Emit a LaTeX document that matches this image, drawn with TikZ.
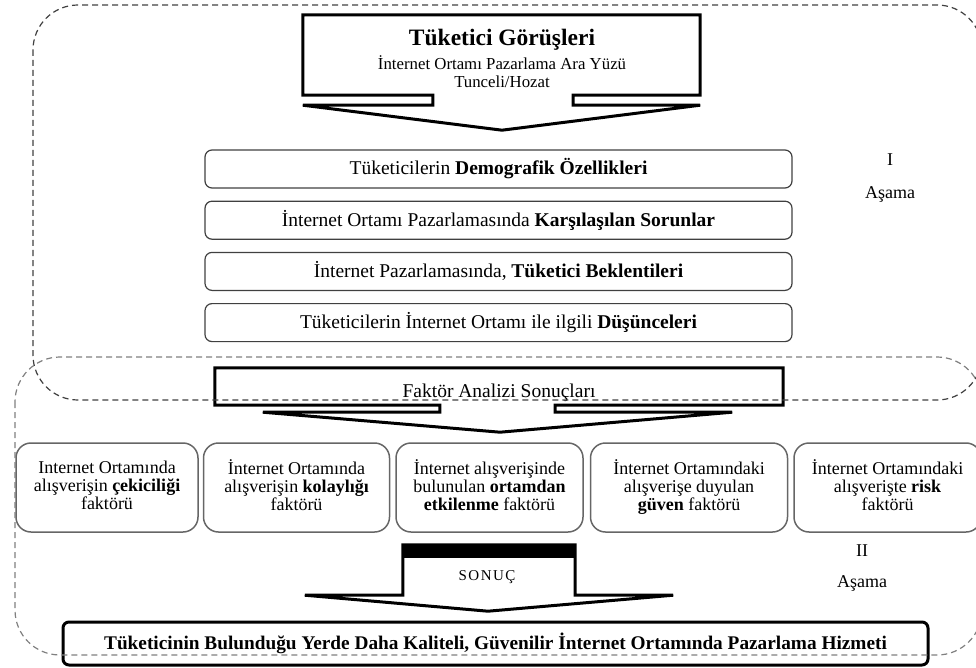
\documentclass[tikz,border=0pt]{standalone}
\usepackage{fontspec}
\setmainfont{Liberation Serif}
\usetikzlibrary{positioning,calc}

\begin{document}
\begin{tikzpicture}[
      x=1pt, y=-1pt,
      block/.style={draw=black!75, line width=1.2pt, rounded corners=7pt, align=center, minimum width=587pt, minimum height=38pt, inner sep=0pt, font=\fontsize{19.5}{21}\selectfont},
      factor/.style={draw=black!60, line width=1.5pt, rounded corners=15pt, align=center, minimum height=89pt, inner sep=2pt, font={\fontsize{18}{18}\selectfont\setlength{\lineskiplimit}{-20pt}}, execute at end node={\strut}},
      result/.style={draw, line width=3pt, rounded corners=6pt, minimum width=865pt, minimum height=43pt, inner sep=0pt, font=\fontsize{19.3}{21}\selectfont\bfseries},
      callout/.style={line width=3pt, line join=miter},
      stage/.style={align=center, font=\fontsize{18}{33}\selectfont},
      zone/.style={dash pattern=on 6pt off 4pt, line width=1.2pt, rounded corners=45pt}
    ]
    \useasboundingbox (0,0) rectangle (976,668);

    % Top callout
    \node[minimum width=397pt, minimum height=80pt, inner sep=0pt] (head) at (501.5,55) {};
    \node[font=\fontsize{23.5}{25}\selectfont\bfseries] (title) at (502,40) {Tüketici Görüşleri};
    \node[font=\fontsize{16.8}{18}\selectfont, align=center] (place) at (502,72) {İnternet Ortamı Pazarlama Ara Yüzü\\Tunceli/Hozat};
    \draw[callout] (head.north west) -- (head.north east) -- (head.south east) -- ++(-127,0) -- ++(0,10) -- ++(127,0)
      -- ($(head.south)+(0.5,35)$) -- ($(head.south west)+(0,10)$) -- ++(130,0) -- ++(0,-10) -- (head.south west) -- cycle;

    % Stage I boxes
    \node[block] (r1) at (498.5,169) {Tüketicilerin \textbf{Demografik Özellikleri}};
    \node[block, below=12pt of r1] (r2) {İnternet Ortamı Pazarlamasında \textbf{Karşılaşılan Sorunlar}};
    \node[block, below=12pt of r2] (r3) {İnternet Pazarlamasında, \textbf{Tüketici Beklentileri}};
    \node[block, below=12pt of r3] (r4) {Tüketicilerin İnternet Ortamı ile ilgili \textbf{Düşünceleri}};
    \node[stage] (st1) at (890,178) {I\\Aşama};

    % Factor analysis callout
    \node[minimum width=568pt, minimum height=37pt, inner sep=0pt] (fa) at (499,386.5) {};
    \node[font=\fontsize{19.5}{21}\selectfont] (falabel) at (499,393) {Faktör Analizi Sonuçları};
    \draw[callout] (fa.north west) -- (fa.north east) -- (fa.south east) -- ++(-228,0) -- ++(0,7) -- ++(177,0)
      -- ($(fa.south)+(1,27)$) -- ($(fa.south west)+(48,7)$) -- ++(177,0) -- ++(0,-7) -- (fa.south west) -- cycle;

    % Factors
    \node[factor, minimum width=182pt] (f1) at (107,487.5) {Internet Ortamında\\alışverişin \textbf{çekiciliği}\\faktörü};
    \node[factor, minimum width=186pt, right=4pt of f1] (f2) {İnternet Ortamında\\alışverişin \textbf{kolaylığı}\\faktörü};
    \node[factor, minimum width=187pt, right=5pt of f2] (f3) {İnternet alışverişinde\\bulunulan \textbf{ortamdan}\\\textbf{etkilenme} faktörü};
    \node[factor, minimum width=197pt, right=6pt of f3] (f4) {İnternet Ortamındaki\\alışverişe duyulan\\\textbf{güven} faktörü};
    \node[factor, minimum width=187pt, right=5pt of f4] (f5) {İnternet Ortamındaki\\alışverişte \textbf{risk}\\faktörü};

    % Result callout
    \node[minimum width=172pt, minimum height=50pt, inner sep=0pt] (son) at (489,570) {};
    \node[font=\fontsize{15}{17}\selectfont] (sonlabel) at ($(son.center)+(-2,7)$) {S\kern1.5pt O\kern1.5pt N\kern1.5pt U\kern1.5pt Ç};
    \fill (son.north west) rectangle ($(son.north east)+(0,13)$);
    \draw[callout] (son.north west) -- (son.north east) -- (son.south east) -- ++(98,0)
      -- ($(son.south)+(-1,16)$) -- ($(son.south west)+(-98,0)$) -- (son.south west) -- cycle;
    \node[stage, font=\fontsize{18}{31}\selectfont] (st2) at (862,568) {II\\Aşama};

    \node[result] (res) at (495.5,643.5) {Tüketicinin Bulunduğu Yerde Daha Kaliteli, Güvenilir İnternet Ortamında Pazarlama Hizmeti};

    % Dashed stage areas
    \draw[zone, draw=black!75] (33,5) rectangle (982,400);
    \draw[zone, draw=black!50] (15,357) rectangle (982,655);
  \end{tikzpicture}
\end{document}
